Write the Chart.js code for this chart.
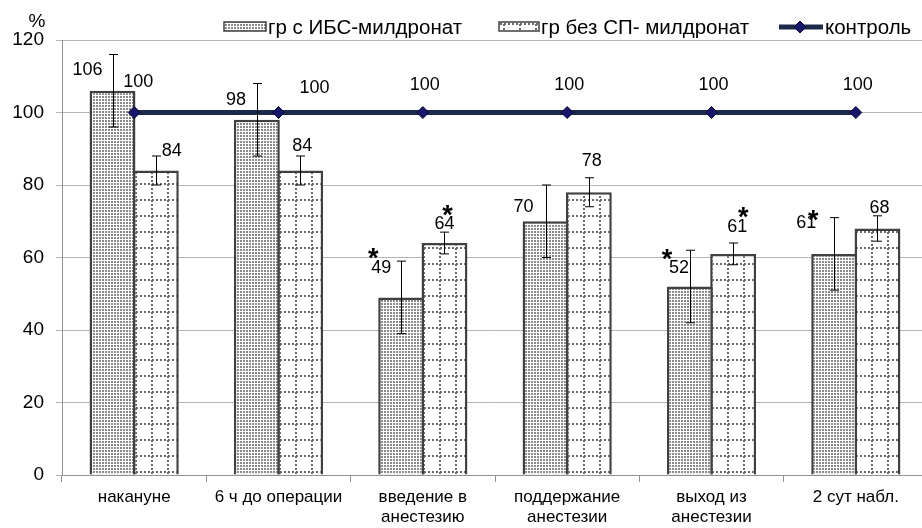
<!DOCTYPE html>
<html>
<head>
<meta charset="utf-8">
<script src="https://cdn.jsdelivr.net/npm/chart.js@4.4.1/dist/chart.umd.min.js"></script>
<style>
    html, body { margin: 0; padding: 0; background: #fff; overflow: hidden; width: 922px; height: 528px; }
    #wrap { width: 935px; height: 528px; }
</style>
</head>
<body>
<div id="wrap"><canvas id="mildronatChart" width="935" height="528"></canvas></div>
<script>
// Chart data
const categories = ['накануне', '6 ч до операции', ['введение в', 'анестезию'], ['поддержание', 'анестезии'], ['выход из', 'анестезии'], '2 сут набл.'];
const ibsValues = [106, 98, 49, 70, 52, 61];
const ibsErrors = [10, 10, 10, 10, 10, 10];
const noCadValues = [84, 84, 64, 78, 61, 68];
const noCadErrors = [4, 4, 3, 4, 3, 3.5];
const controlValues = [100, 100, 100, 100, 100, 100];
const ibsStars = [false, false, true, false, true, true];
const noCadStars = [false, false, true, false, true, false];
const yTicks = [0, 20, 40, 60, 80, 100, 120];

// label nudges (px) for value labels
const ibsLabelShift = [[-2, -21], [2, -20], [3, -29], [1, -14], [12, -18], [-5, -31]];
const noCadLabelShift = [[16, -5], [2, -10], [0, -8], [3, -17], [4, -16], [2, -8]];
const controlLabelShift = [[4, -30], [36, -24], [2, -27], [2, -27], [2, -27], [2, -27]];
const ibsStarShift = [null, null, [-8, -15], null, [-12, -15], [7, -8]];
const noCadStarShift = [null, null, [3, -14], null, [6, -15], null];

const FONT = '"Liberation Sans", Arial, sans-serif';

// Fill patterns
function dotPattern() {
    const c = document.createElement('canvas');
    c.width = 3; c.height = 3;
    const g = c.getContext('2d');
    g.fillStyle = '#ffffff';
    g.fillRect(0, 0, 3, 3);
    g.fillStyle = '#8a8a8a';
    g.fillRect(0, 0, 2, 2);
    return g.createPattern(c, 'repeat');
}

function gridPattern() {
    const c = document.createElement('canvas');
    c.width = 16; c.height = 16;
    const g = c.getContext('2d');
    g.fillStyle = '#ffffff';
    g.fillRect(0, 0, 16, 16);
    g.fillStyle = '#6a6a6a';
    for (let k = 0; k < 16; k += 4) {
        g.fillRect(7, k, 2, 2);
        g.fillRect(k, 7, 2, 2);
    }
    return g.createPattern(c, 'repeat');
}

const ibsFill = dotPattern();
const noCadFill = gridPattern();

// Error bars, value labels, stars, legend
const extrasPlugin = {
    id: 'extras',
    afterDatasetsDraw(chart) {
        const ctx = chart.ctx;
        const y = chart.scales.y;
        const errSets = [[0, ibsValues, ibsErrors], [1, noCadValues, noCadErrors]];

        ctx.save();
        ctx.strokeStyle = '#000';
        ctx.lineWidth = 1;
        errSets.forEach(([ds, vals, errs]) => {
            chart.getDatasetMeta(ds).data.forEach((bar, i) => {
                const x = Math.round(bar.x) + 0.5;
                const top = y.getPixelForValue(vals[i] + errs[i]);
                const bot = y.getPixelForValue(vals[i] - errs[i]);
                ctx.beginPath();
                ctx.moveTo(x, top); ctx.lineTo(x, bot);
                ctx.moveTo(x - 4.5, top); ctx.lineTo(x + 4.5, top);
                ctx.moveTo(x - 4.5, bot); ctx.lineTo(x + 4.5, bot);
                ctx.stroke();
            });
        });

        ctx.fillStyle = '#000';
        ctx.font = '18px ' + FONT;
        ctx.textAlign = 'center';
        ctx.textBaseline = 'middle';

        const drawStar = (x, yy) => {
            ctx.save();
            ctx.font = 'bold 27px ' + FONT;
            ctx.textBaseline = 'alphabetic';
            ctx.fillText('*', x, yy + 14);
            ctx.restore();
        };

        chart.getDatasetMeta(0).data.forEach((bar, i) => {
            const lx = bar.x - bar.width / 2 + ibsLabelShift[i][0];
            const ly = y.getPixelForValue(ibsValues[i]) + ibsLabelShift[i][1];
            ctx.fillText(String(ibsValues[i]), lx, ly);
            if (ibsStars[i]) drawStar(lx + ibsStarShift[i][0], ly + ibsStarShift[i][1]);
        });

        chart.getDatasetMeta(1).data.forEach((bar, i) => {
            const lx = bar.x + noCadLabelShift[i][0];
            const ly = y.getPixelForValue(noCadValues[i] + noCadErrors[i]) + noCadLabelShift[i][1];
            ctx.fillText(String(noCadValues[i]), lx, ly);
            if (noCadStars[i]) drawStar(lx + noCadStarShift[i][0], ly + noCadStarShift[i][1]);
        });

        chart.getDatasetMeta(2).data.forEach((pt, i) => {
            ctx.fillText(String(controlValues[i]), pt.x + controlLabelShift[i][0], pt.y + controlLabelShift[i][1]);
        });
        ctx.restore();
    },
    afterDraw(chart) {
        const ctx = chart.ctx;
        ctx.save();
        ctx.fillStyle = '#000';
        ctx.textBaseline = 'middle';
        ctx.textAlign = 'center';
        ctx.font = '19px ' + FONT;
        ctx.fillText('%', 37, 22);

        // legend
        ctx.textAlign = 'left';
        ctx.font = '20.5px ' + FONT;
        ctx.lineWidth = 1.5;
        ctx.strokeStyle = '#404040';

        ctx.fillStyle = ibsFill;
        ctx.fillRect(224, 22, 42, 9);
        ctx.strokeRect(224, 22, 42, 9);
        ctx.fillStyle = '#000';
        ctx.fillText('гр с ИБС-милдронат', 268, 28);

        ctx.fillStyle = noCadFill;
        ctx.fillRect(499, 22, 40, 9);
        ctx.strokeRect(499, 22, 40, 9);
        ctx.fillStyle = '#000';
        ctx.fillText('гр без СП- милдронат', 541, 28);

        ctx.strokeStyle = '#1b2a4a';
        ctx.lineWidth = 5;
        ctx.beginPath();
        ctx.moveTo(779, 27); ctx.lineTo(823, 27);
        ctx.stroke();
        ctx.fillStyle = '#16166a';
        ctx.strokeStyle = '#0a0a30';
        ctx.lineWidth = 1;
        ctx.beginPath();
        ctx.moveTo(800, 21); ctx.lineTo(806, 27); ctx.lineTo(800, 33); ctx.lineTo(794, 27);
        ctx.closePath();
        ctx.fill(); ctx.stroke();
        ctx.fillStyle = '#000';
        ctx.fillText('контроль', 825, 28);
        ctx.restore();
    }
};

new Chart(document.getElementById('mildronatChart'), {
    data: {
        labels: categories,
        datasets: [
            {
                type: 'bar',
                label: 'гр с ИБС-милдронат',
                data: ibsValues,
                backgroundColor: ibsFill,
                borderColor: '#404040',
                borderWidth: 2.5,
                categoryPercentage: 0.6,
                barPercentage: 1.06,
                order: 1
            },
            {
                type: 'bar',
                label: 'гр без СП- милдронат',
                data: noCadValues,
                backgroundColor: noCadFill,
                borderColor: '#404040',
                borderWidth: 2.5,
                categoryPercentage: 0.6,
                barPercentage: 1.06,
                order: 1
            },
            {
                type: 'line',
                label: 'контроль',
                data: controlValues,
                borderColor: '#1b2a4a',
                borderWidth: 5,
                pointStyle: 'rectRot',
                pointRadius: 6,
                pointBackgroundColor: '#16166a',
                pointBorderColor: '#0a0a30',
                pointBorderWidth: 1,
                tension: 0,
                order: 0
            }
        ]
    },
    options: {
        responsive: false,
        animation: false,
        layout: { padding: { top: 40, right: 3, left: 0, bottom: 0 } },
        plugins: {
            legend: { display: false },
            tooltip: { enabled: false }
        },
        scales: {
            x: {
                afterFit: (s) => { s.height = 53; },
                grid: { display: true, drawOnChartArea: false, drawTicks: true, tickLength: 7, offset: true, color: '#909090' },
                border: { color: '#909090', width: 1 },
                ticks: { color: '#000', font: { family: FONT, size: 17 }, padding: 5, maxRotation: 0, autoSkip: false }
            },
            y: {
                min: 0,
                max: 120,
                afterFit: (s) => { s.width = 62; },
                afterBuildTicks: (s) => { s.ticks = yTicks.map(v => ({ value: v })); },
                grid: { color: '#b4b4b4', tickLength: 6 },
                border: { color: '#909090', width: 1 },
                ticks: { color: '#000', font: { family: FONT, size: 19 }, padding: 12 }
            }
        }
    },
    plugins: [extrasPlugin]
});
</script>
</body>
</html>
